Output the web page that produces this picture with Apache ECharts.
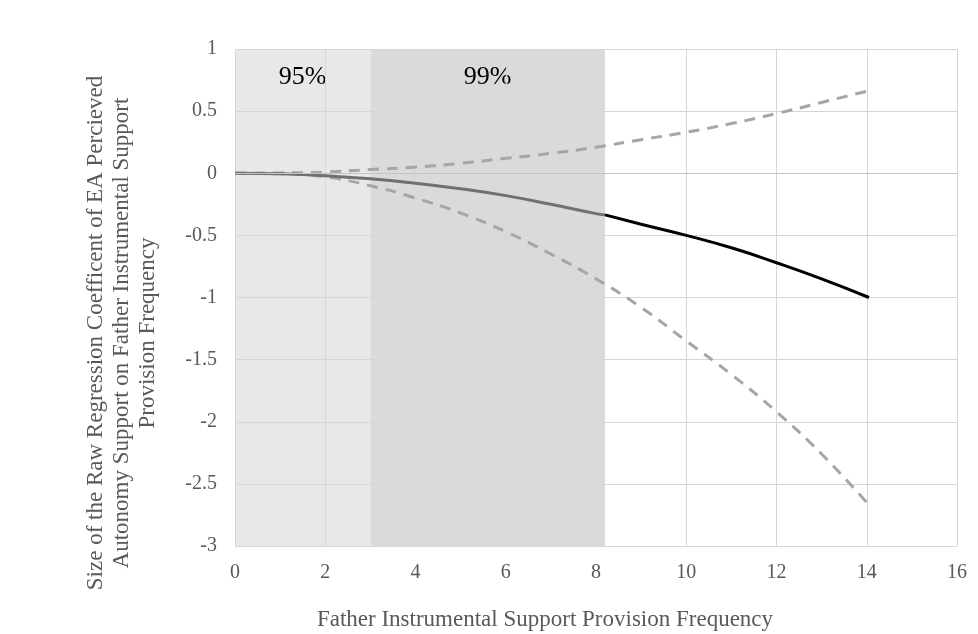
<!DOCTYPE html>
<html>
<head>
<meta charset="utf-8">
<script src="https://cdn.jsdelivr.net/npm/echarts@6/dist/echarts.min.js"></script>
<style>
    html, body { margin: 0; padding: 0; background: #fff; }
    #main { width: 978px; height: 634px; }
</style>
</head>
<body>
<div id="main"></div>
<script>
// values
var xValues = [0, 1, 2, 3, 4, 5, 6, 7, 8, 9, 10, 11, 12, 13, 14];
var upperBand = [0, 0.003, 0.01, 0.03, 0.05, 0.08, 0.12, 0.16, 0.21, 0.27, 0.33, 0.4, 0.48, 0.57, 0.66];
var lowerBand = [0, -0.005, -0.03, -0.1, -0.2, -0.32, -0.47, -0.65, -0.85, -1.08, -1.35, -1.62, -1.92, -2.26, -2.65];

// raw coefficient: grey inside the significance region, black outside it
var coefInX = [0, 1, 2, 3, 4, 5, 6, 7, 8, 8.2];
var coefInY = [0, -0.005, -0.02, -0.045, -0.08, -0.125, -0.18, -0.25, -0.325, -0.335];
var coefOutX = [8.2, 9, 10, 11, 12, 13, 14.05];
var coefOutY = [-0.335, -0.41, -0.5, -0.6, -0.72, -0.85, -1.0];

// significance regions
var regions = [
    {name: '95%', from: 0, to: 3, color: '#e8e8e8'},
    {name: '99%', from: 3, to: 8.2, color: '#dadada'}
];

var xTicks = {min: 0, max: 16, interval: 2};
var yTicks = {min: -3, max: 1, interval: 0.5};

function pairs(xs, ys) {
    return xs.map(function (x, i) { return [x, ys[i]]; });
}

var font = 'Liberation Serif';
var grey = '#595959';

var myChart = echarts.init(document.getElementById('main'));

var option = {
    animation: false,
    grid: {left: 235, right: 21, top: 49, bottom: 88},
    xAxis: {
        type: 'value',
        min: xTicks.min, max: xTicks.max, interval: xTicks.interval,
        axisLine: {show: false},
        axisTick: {show: false},
        axisLabel: {color: grey, fontFamily: font, fontSize: 20, margin: 17},
        splitLine: {lineStyle: {color: '#d6d6d6', width: 1}}
    },
    yAxis: {
        type: 'value',
        min: yTicks.min, max: yTicks.max, interval: yTicks.interval,
        axisLine: {show: false},
        axisTick: {show: false},
        axisLabel: {color: grey, fontFamily: font, fontSize: 20, margin: 18},
        splitLine: {lineStyle: {color: '#d6d6d6', width: 1}}
    },
    graphic: [
        {
            type: 'text',
            x: 545, y: 620,
            style: {
                text: 'Father Instrumental Support Provision Frequency',
                fill: grey, font: '23px "Liberation Serif"',
                align: 'center', verticalAlign: 'middle'
            }
        },
        {
            type: 'text',
            x: 122, y: 333,
            rotation: Math.PI / 2,
            style: {
                text: 'Size of the Raw Regression Coefficent of EA Percieved\nAutonomy Support on Father Instrumental Support\nProvision Frequency',
                fill: grey, font: '23px "Liberation Serif"',
                align: 'center', verticalAlign: 'middle', lineHeight: 26
            }
        }
    ],
    series: [
        {
            name: 'regions',
            type: 'line',
            z: -1,
            data: [],
            markArea: {
                silent: true,
                z: -1,
                label: {
                    show: true, position: 'insideTop', distance: 15,
                    color: '#000', fontFamily: font, fontSize: 26
                },
                data: regions.map(function (r) {
                    return [
                        {name: r.name, xAxis: r.from, yAxis: yTicks.max, itemStyle: {color: r.color}},
                        {xAxis: r.to, yAxis: yTicks.min}
                    ];
                })
            }
        },
        {
            name: 'upper',
            type: 'line',
            smooth: true,
            showSymbol: false,
            data: pairs(xValues, upperBand),
            lineStyle: {color: '#a6a6a6', width: 3, type: [11, 8]},
            markLine: {
                silent: true, symbol: 'none', label: {show: false},
                lineStyle: {color: '#c4c4c4', type: 'solid', width: 1},
                data: [{yAxis: 0}]
            }
        },
        {
            name: 'lower',
            type: 'line',
            smooth: true,
            showSymbol: false,
            data: pairs(xValues, lowerBand),
            lineStyle: {color: '#a6a6a6', width: 3, type: [11, 8]}
        },
        {
            name: 'coef-in',
            type: 'line',
            smooth: true,
            showSymbol: false,
            data: pairs(coefInX, coefInY),
            lineStyle: {color: '#707070', width: 3}
        },
        {
            name: 'coef-out',
            type: 'line',
            smooth: true,
            showSymbol: false,
            data: pairs(coefOutX, coefOutY),
            lineStyle: {color: '#000', width: 3}
        }
    ]
};

myChart.setOption(option);
</script>
</body>
</html>
